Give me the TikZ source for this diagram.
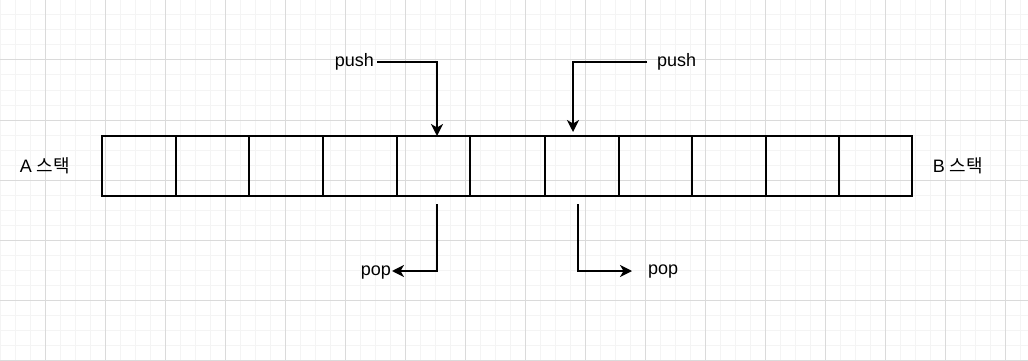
\documentclass[tikz,border=0pt]{standalone}
\usepackage{fontspec}
\setmainfont{Liberation Sans}
\newfontfamily\kr{Noto Sans CJK KR}
\usetikzlibrary{arrows.meta}
\definecolor{gridminor}{HTML}{F4F4F4}
\definecolor{gridmajor}{HTML}{DADADA}
\begin{document}
\begin{tikzpicture}[x=1pt,y=-1pt,
  cell/.style={draw=black,line width=1.8pt,minimum height=60pt,inner sep=0pt,outer sep=0pt,anchor=north west},
  lbl/.style={font=\fontsize{18}{21}\selectfont,inner sep=0pt,text=black},
  arr/.style={draw=black,line width=1.8pt,-{Stealth[length=12pt,width=12pt,inset=3.5pt]}},
]
\useasboundingbox (0,0) rectangle (1028,361);
\fill[white] (0,0) rectangle (1028,361);
% minor grid
\foreach \x in {0,15,...,1020} \draw[gridminor,line width=1pt] (\x,0) -- (\x,361);
\foreach \y in {0,15,...,360} \draw[gridminor,line width=1pt] (0,\y) -- (1028,\y);
% major grid
\foreach \x in {45,105,...,1005} \draw[gridmajor,line width=1pt] (\x,0) -- (\x,361);
\foreach \y in {60,120,...,360} \draw[gridmajor,line width=1pt] (0,\y) -- (1028,\y);
% cells
\foreach \i/\a/\b in {1/102/176,2/176/249,3/249/323,4/323/397,5/397/470,6/470/545,7/545/619,8/619/692,9/692/766,10/766/839,11/839/912} {
  \node[cell,minimum width={(\b-\a)*1pt}] (c\i) at (\a,136) {};
}
% side labels
\node[lbl] (la) at (45,166) {A {\kr 스택}};
\node[lbl] (lb) at (958,166) {B {\kr 스택}};
% push labels
\node[lbl,anchor=east,inner xsep=3pt] (push1) at (377,62) {push};
\node[lbl,anchor=west,inner xsep=10pt] (push2) at (647,62) {push};
\coordinate (t1) at (437,136);
\coordinate (t2) at (573,132);
\draw[arr] (push1.east) -| (t1);
\draw[arr] (push2.west) -| (t2);
% pop labels
\coordinate (s1) at (437,204);
\coordinate (s2) at (578,204);
\coordinate (e1) at (392,271);
\coordinate (e2) at (632,271);
\node[lbl,anchor=east] (pop1) at (391,273) {pop};
\node[lbl,anchor=west] (pop2) at (648,272) {pop};
\draw[arr] (s1) |- (e1);
\draw[arr] (s2) |- (e2);
\end{tikzpicture}
\end{document}
